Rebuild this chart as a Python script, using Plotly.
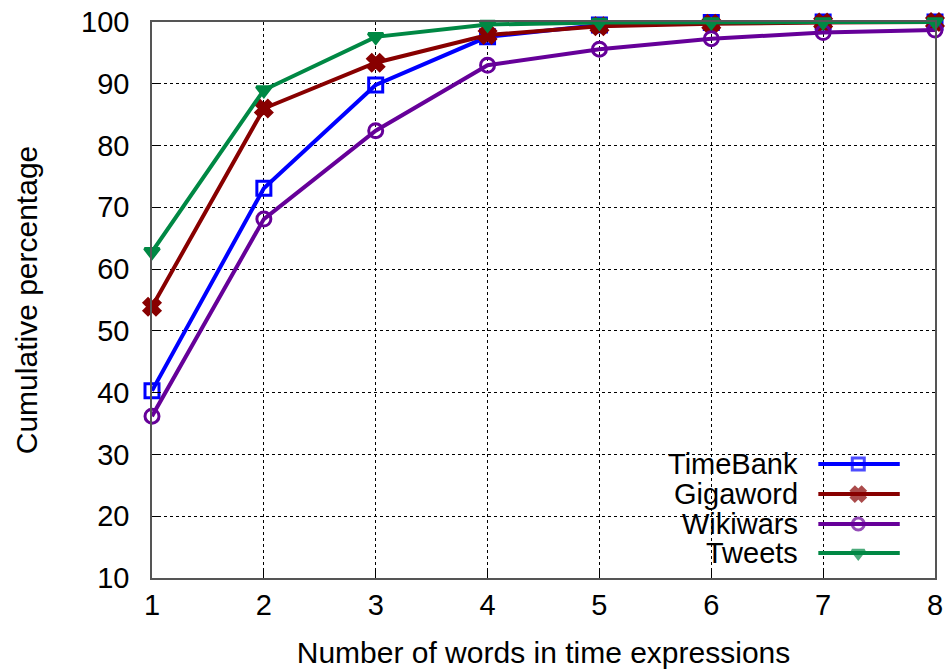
import plotly.graph_objects as go

x_words = [1, 2, 3, 4, 5, 6, 7, 8]
timebank = [40.3, 73.1, 89.8, 97.6, 99.5, 99.9, 100.0, 100.0]
gigaword = [53.9, 86.0, 93.4, 97.9, 99.3, 99.7, 99.9, 100.0]
wikiwars = [36.2, 68.1, 82.4, 93.0, 95.6, 97.3, 98.3, 98.7]
tweets = [62.8, 89.0, 97.6, 99.6, 99.9, 100.0, 100.0, 100.0]

series_names = ["TimeBank", "Gigaword", "Wikiwars", "Tweets"]
series_values = [timebank, gigaword, wikiwars, tweets]
colors = ["#0000ff", "#880000", "#660099", "#008844"]
symbols = ["square-open", "x", "circle-open", "triangle-down"]
sizes = [14, 14, 14, 13]

FONT = "Liberation Sans, Arial, sans-serif"

fig = go.Figure()
for name, vals, c, s, sz in zip(series_names, series_values, colors, symbols, sizes):
    fig.add_trace(go.Scatter(
        x=x_words, y=vals, mode="lines+markers", name=name,
        line=dict(color=c, width=4),
        marker=dict(symbol=s, size=sz, color=c, line=dict(color=c, width=3)),
        showlegend=False, cliponaxis=False,
    ))

# custom gnuplot-style legend (text then sample) on a hidden overlay axis
leg_y = [0.205, 0.151, 0.097, 0.045]
for name, c, s, sz, ly in zip(series_names, colors, symbols, sizes, leg_y):
    fig.add_trace(go.Scatter(
        x=[0.851, 0.902, 0.955], y=[ly, ly, ly], mode="lines+markers",
        xaxis="x2", yaxis="y2", showlegend=False, hoverinfo="skip",
        line=dict(color=c, width=4),
        marker=dict(symbol=s, size=[0, sz - 2, 0], color=c, line=dict(color=c, width=3)),
    ))
    fig.add_annotation(
        x=0.828, y=ly, xref="paper", yref="paper", text=name, showarrow=False,
        xanchor="right", yanchor="middle", font=dict(family=FONT, size=29, color="black"),
    )

fig.update_layout(
    width=948, height=669,
    margin=dict(l=152, r=13, t=22, b=91, autoexpand=False),
    paper_bgcolor="white", plot_bgcolor="white",
    font=dict(family=FONT, size=30, color="black"),
    xaxis=dict(
        range=[1, 8], tickvals=x_words, ticktext=[str(v) for v in x_words],
        showgrid=True, gridcolor="black", griddash="dot", gridwidth=1,
        showline=True, linecolor="#555555", linewidth=1.5, mirror=True,
        ticks="inside", ticklen=9, tickcolor="black", zeroline=False,
        automargin=False, ticklabelstandoff=0, ticklabeloverflow="allow",
        title=dict(text="Number of words in time expressions", font=dict(size=30), standoff=26),
        tickfont=dict(size=29),
    ),
    yaxis=dict(
        range=[10, 100], tickvals=[10, 20, 30, 40, 50, 60, 70, 80, 90, 100],
        showgrid=True, gridcolor="black", griddash="dot", gridwidth=1,
        showline=True, linecolor="#555555", linewidth=1.5, mirror=True,
        ticks="inside", ticklen=9, tickcolor="black", zeroline=False,
        automargin=False, ticklabelstandoff=15, ticklabeloverflow="allow",
        title=dict(text="Cumulative percentage", font=dict(size=30), standoff=35),
        tickfont=dict(size=29),
    ),
    xaxis2=dict(domain=[0, 1], range=[0, 1], overlaying="x", visible=False, fixedrange=True),
    yaxis2=dict(domain=[0, 1], range=[0, 1], overlaying="y", visible=False, fixedrange=True),
)

fig.write_html(
    "out.html",
    config={"displayModeBar": False},
    post_script="document.body.style.margin='0';document.body.style.overflow='hidden';",
)
